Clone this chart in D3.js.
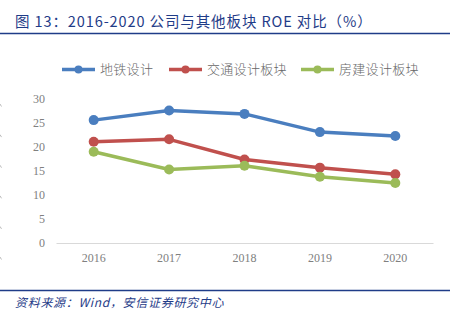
<!DOCTYPE html>
<html><head><meta charset="utf-8">
<script src="https://cdn.jsdelivr.net/npm/d3@7/dist/d3.min.js"></script>
<style>body{margin:0;background:#fff}svg{display:block}</style>
</head><body>
<svg id="c" width="462" height="323"></svg>
<script>
const categories = ["2016","2017","2018","2019","2020"];
const seriesNames = ["地铁设计","交通设计板块","房建设计板块"];
const metroValues = [25.6, 27.6, 26.9, 23.1, 22.3];
const trafficValues = [21.1, 21.6, 17.4, 15.7, 14.3];
const buildingValues = [19.0, 15.3, 16.1, 13.8, 12.5];
const yTicks = [0, 5, 10, 15, 20, 25, 30];
const colors = ["#4A7EBF", "#C0504D", "#9BBB59"];
const series = [metroValues, trafficValues, buildingValues];

const svg = d3.select("#c");
const navy = "#1F3C88";

// title
svg.append("text").attr("x", 15).attr("y", 26.5)
  .attr("font-family", "'Noto Sans CJK SC', 'Liberation Sans', sans-serif")
  .attr("font-size", 14.5).attr("font-weight", 400).attr("fill", navy)
  .attr("letter-spacing", 0.9)
  .text("图 13：2016-2020 公司与其他板块 ROE 对比（%）");
svg.append("line").attr("x1", 0).attr("x2", 450).attr("y1", 33.5).attr("y2", 33.5)
  .attr("stroke", navy).attr("stroke-width", 1.5);

// footer
svg.append("line").attr("x1", 0).attr("x2", 450).attr("y1", 290.5).attr("y2", 290.5)
  .attr("stroke", navy).attr("stroke-width", 1.5);
svg.append("text").attr("x", 15).attr("y", 307)
  .attr("font-family", "'Noto Sans CJK SC', sans-serif")
  .attr("font-size", 12).attr("font-style", "italic").attr("fill", navy)
  .attr("letter-spacing", 0.7)
  .text("资料来源：Wind，安信证券研究中心");

const x = d3.scaleBand().domain(categories).range([56, 433]);
const y = d3.scaleLinear().domain([0, 30]).range([243, 99]);

// y axis labels
const yAxis = d3.axisLeft(y).tickValues(yTicks).tickSize(0).tickPadding(0);
const gy = svg.append("g").attr("transform", "translate(45,0)").call(yAxis);
gy.select(".domain").remove();
gy.selectAll("text").attr("font-family", "'Liberation Serif', serif")
  .attr("font-size", 12).attr("fill", "#808080");

// x axis
const xAxis = d3.axisBottom(x).tickSize(0).tickPadding(10);
const gx = svg.append("g").attr("transform", "translate(0,243)").call(xAxis);
gx.select(".domain").attr("stroke", "#d9d9d9").attr("stroke-width", 1);
gx.selectAll("text").attr("font-family", "'Liberation Serif', serif")
  .attr("font-size", 12).attr("fill", "#808080");

// faint edge ticks (remnant of neighbouring figure)
svg.append("g").selectAll("line").data(d3.range(6)).join("line")
  .attr("x1", 0).attr("x2", 1.5)
  .attr("y1", i => 104 + i * 30.6).attr("y2", i => 106.5 + i * 30.6)
  .attr("stroke", "#bbb").attr("stroke-width", 1);

const line = d3.line().x((d, i) => x(categories[i]) + x.bandwidth() / 2).y(d => y(d));
series.forEach((vals, si) => {
  svg.append("path").datum(vals).attr("d", line)
    .attr("fill", "none").attr("stroke", colors[si]).attr("stroke-width", 3.5)
    .attr("stroke-linejoin", "round");
  svg.append("g").selectAll("circle").data(vals).join("circle")
    .attr("cx", (d, i) => x(categories[i]) + x.bandwidth() / 2)
    .attr("cy", d => y(d)).attr("r", 5).attr("fill", colors[si]);
});

// legend
const legX = [62, 169, 301];
seriesNames.forEach((name, i) => {
  const g = svg.append("g").attr("transform", `translate(${legX[i]},69.5)`);
  g.append("line").attr("x1", 0).attr("x2", 33).attr("stroke", colors[i]).attr("stroke-width", 3.5);
  g.append("circle").attr("cx", 16.5).attr("r", 4).attr("fill", colors[i]);
  g.append("text").attr("x", 38).attr("y", 4.5)
    .attr("font-family", "'Noto Sans CJK SC', sans-serif")
    .attr("font-size", 13).attr("font-weight", 300).attr("fill", "#666")
    .attr("letter-spacing", 0.3).text(name);
});
</script>
</body></html>
